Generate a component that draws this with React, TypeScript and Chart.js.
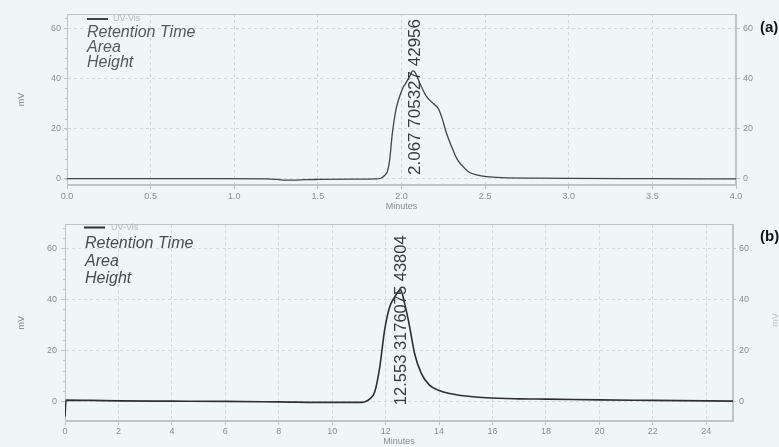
import { useEffect, useRef } from "react";
import { Chart, registerables } from "chart.js";

Chart.register(...registerables);

// ---- Panel (a) ----
const minutesA = [0, 0.3, 0.6, 0.9, 1.2, 1.26, 1.31, 1.36, 1.42, 1.5, 1.7, 1.85, 1.88, 1.9, 1.916, 1.93, 1.945, 1.965, 1.98, 1.995, 2.01, 2.025, 2.05, 2.067, 2.08, 2.11, 2.15, 2.19, 2.22, 2.24, 2.27, 2.3, 2.33, 2.36, 2.4, 2.45, 2.51, 2.6, 2.8, 3.0, 3.5, 4.0];
const mvA = [0.1, 0.1, 0.1, 0.1, 0.05, -0.2, -0.5, -0.5, -0.3, -0.2, -0.1, 0, 0.4, 1.5, 3, 8, 18, 27, 31, 34, 36.5, 38, 41, 42.96, 42.5, 38, 32.7, 30, 28, 24.7, 18, 12.8, 8.2, 5.5, 2.9, 1.6, 0.9, 0.5, 0.3, 0.2, 0.1, 0];
const xTicksA = [0, 0.5, 1, 1.5, 2, 2.5, 3, 3.5, 4];
const peakA = [2.067, 705327, 42956];

// ---- Panel (b) ----
const minutesB = [0, 0.04, 1, 2, 4, 6, 8, 10, 11, 11.2, 11.4, 11.59, 11.78, 11.96, 12.15, 12.34, 12.553, 12.71, 12.9, 13.08, 13.33, 13.64, 14.0, 14.39, 15.0, 15.76, 17, 18, 20, 22, 24, 25];
const mvB = [-6, 0.4, 0.3, 0.1, 0, -0.1, -0.3, -0.5, -0.5, -0.3, 0.8, 3.6, 13.4, 27.8, 37, 40.9, 43.8, 38.4, 29.1, 18.8, 11, 6.3, 4.2, 3, 2, 1.3, 0.9, 0.8, 0.5, 0.3, 0.1, 0];
const xTicksB = [0, 2, 4, 6, 8, 10, 12, 14, 16, 18, 20, 22, 24];
const peakB = [12.553, 3176075, 43804];

const yTicks = [0, 20, 40, 60];
const infoLabels = ["Retention Time", "Area", "Height"];
const seriesName = "UV-Vis";
const xTitle = "Minutes";
const yTitle = "mV";

const FONT = "'Liberation Sans', Arial, Helvetica, sans-serif";
const BG = "#eef6f6";
const GRID = "#d3d9d9";
const FRAME = "#bfc5c5";
const TICKTXT = "#8a8e8e";

type Panel = {
  tag: string;
  minutes: number[];
  mv: number[];
  xTicks: number[];
  xMax: number;
  decimals: number;
  yMin: number;
  yMax: number;
  peak: number[];
  top: number;
  height: number;
  areaTop: number;
  yWidth: number;
  y2Width: number;
  xHeight: number;
  xTickLen: number;
  xTickPad: number;
  xTitlePad: number;
  yTickLen: number;
  yTickPad: number;
  y2TickLen: number;
  y2TickPad: number;
  yTitlePad: number;
  lineColor: string;
  lineWidth: number;
  infoColor: string;
  legend: { x: number; y: number; tx: number };
  info: { x: number; y: number; dy: number };
  peakDx: number;
  peakDy: number;
  peakSize: number;
  tagPos: { x: number; y: number };
  ghostMv?: { x: number; y: number };
};

const panels: Panel[] = [
  {
    tag: "(a)",
    minutes: minutesA,
    mv: mvA,
    xTicks: xTicksA,
    xMax: 4,
    decimals: 1,
    yMin: -2.4,
    yMax: 65.6,
    peak: peakA,
    top: 0,
    height: 215,
    areaTop: 14,
    yWidth: 67,
    y2Width: 43,
    xHeight: 30,
    xTickLen: 4,
    xTickPad: 2,
    xTitlePad: 2.6,
    yTickLen: 3,
    yTickPad: 3,
    y2TickLen: 4,
    y2TickPad: 3,
    yTitlePad: 16.6,
    lineColor: "#424444",
    lineWidth: 1.3,
    infoColor: "#555858",
    legend: { x: 87, y: 19, tx: 113 },
    info: { x: 87, y: 37, dy: 15 },
    peakDx: 2.5,
    peakDy: -4,
    peakSize: 17,
    tagPos: { x: 760, y: 28 },
  },
  {
    tag: "(b)",
    minutes: minutesB,
    mv: mvB,
    xTicks: xTicksB,
    xMax: 25,
    decimals: 0,
    yMin: -7.8,
    yMax: 69.4,
    peak: peakB,
    top: 215,
    height: 232,
    areaTop: 8,
    yWidth: 65,
    y2Width: 46,
    xHeight: 26,
    xTickLen: 4,
    xTickPad: 1,
    xTitlePad: 0,
    yTickLen: 4,
    yTickPad: 4,
    y2TickLen: 3,
    y2TickPad: 3,
    yTitlePad: 16.6,
    lineColor: "#2e3030",
    lineWidth: 1.6,
    infoColor: "#4a4c4c",
    legend: { x: 84, y: 12.5, tx: 111 },
    info: { x: 85, y: 33, dy: 17.5 },
    peakDx: 0.8,
    peakDy: 4,
    peakSize: 16.5,
    tagPos: { x: 760, y: 22 },
    ghostMv: { x: 776, y: 105 },
  },
];

function makeChart(canvas: HTMLCanvasElement, p: Panel) {
  const data = p.minutes.map((m, i) => ({ x: m, y: p.mv[i] }));

  const decor = {
    id: "decor",
    beforeDatasetsDraw(chart: any) {
      const { ctx, chartArea: a } = chart;
      const ys = chart.scales.y;
      ctx.save();
      ctx.strokeStyle = FRAME;
      ctx.lineWidth = 1;
      ctx.strokeRect(Math.round(a.left) + 0.5, Math.round(a.top) + 0.5, Math.round(a.right - a.left) - 1, Math.round(a.bottom - a.top) - 1);
      ctx.beginPath();
      for (let v = 0; v <= p.yMax; v += 4) {
        const py = Math.round(ys.getPixelForValue(v)) + 0.5;
        ctx.moveTo(a.left - 2, py);
        ctx.lineTo(a.left, py);
      }
      ctx.stroke();
      ctx.restore();
    },
    afterDraw(chart: any) {
      const { ctx } = chart;
      const xs = chart.scales.x;
      const ys = chart.scales.y;
      ctx.save();
      // legend entry
      ctx.strokeStyle = p.lineColor;
      ctx.lineWidth = 2;
      ctx.beginPath();
      ctx.moveTo(p.legend.x, p.legend.y);
      ctx.lineTo(p.legend.x + 21, p.legend.y);
      ctx.stroke();
      ctx.fillStyle = "#b4baba";
      ctx.font = `9px ${FONT}`;
      ctx.textAlign = "left";
      ctx.textBaseline = "middle";
      ctx.fillText(seriesName, p.legend.tx, p.legend.y);
      // info block
      ctx.fillStyle = p.infoColor;
      ctx.font = `italic 16px ${FONT}`;
      ctx.textBaseline = "alphabetic";
      infoLabels.forEach((s, i) => ctx.fillText(s, p.info.x, p.info.y + i * p.info.dy));
      // peak annotation
      ctx.save();
      ctx.translate(xs.getPixelForValue(p.peak[0]) + p.peakDx, ys.getPixelForValue(0) + p.peakDy);
      ctx.rotate(-Math.PI / 2);
      ctx.font = `${p.peakSize}px ${FONT}`;
      ctx.fillStyle = "#3a3c3c";
      ctx.textBaseline = "middle";
      ctx.textAlign = "left";
      ctx.fillText(p.peak.join(" "), 0, 0);
      ctx.restore();
      // panel tag
      ctx.font = `bold 15px ${FONT}`;
      ctx.fillStyle = "#151515";
      ctx.textBaseline = "middle";
      ctx.textAlign = "left";
      ctx.fillText(p.tag, p.tagPos.x, p.tagPos.y);
      if (p.ghostMv) {
        ctx.save();
        ctx.translate(p.ghostMv.x, p.ghostMv.y);
        ctx.rotate(-Math.PI / 2);
        ctx.font = `9px ${FONT}`;
        ctx.fillStyle = "#c4caca";
        ctx.textAlign = "center";
        ctx.fillText(yTitle, 0, 0);
        ctx.restore();
      }
      ctx.restore();
    },
  };

  const tickFont = { size: 9, family: FONT };
  const yScaleBase = {
    type: "linear" as const,
    min: p.yMin,
    max: p.yMax,
    afterBuildTicks: (s: any) => {
      s.ticks = yTicks.map((v) => ({ value: v }));
    },
  };

  return new Chart(canvas, {
    type: "line",
    data: {
      datasets: [
        {
          label: seriesName,
          data,
          borderColor: p.lineColor,
          borderWidth: p.lineWidth,
          pointRadius: 0,
          fill: false,
          cubicInterpolationMode: "monotone",
        },
      ],
    },
    options: {
      animation: false,
      responsive: false,
      maintainAspectRatio: false,
      layout: { padding: { top: p.areaTop, left: 0, right: 0, bottom: 0 } },
      plugins: { legend: { display: false }, tooltip: { enabled: false } },
      scales: {
        x: {
          type: "linear",
          min: 0,
          max: p.xMax,
          afterBuildTicks: (s: any) => {
            s.ticks = p.xTicks.map((v) => ({ value: v }));
          },
          afterFit: (s: any) => {
            s.height = p.xHeight;
          },
          ticks: {
            color: TICKTXT,
            font: tickFont,
            padding: p.xTickPad,
            maxRotation: 0,
            autoSkip: false,
            callback: (v: any) => Number(v).toFixed(p.decimals),
          },
          grid: { color: GRID, tickColor: FRAME, tickLength: p.xTickLen },
          border: { display: true, color: FRAME, dash: [3, 3] },
          title: { display: true, text: xTitle, color: TICKTXT, font: tickFont, padding: { top: 0, bottom: p.xTitlePad } },
        },
        y: {
          ...yScaleBase,
          position: "left",
          afterFit: (s: any) => {
            s.width = p.yWidth;
          },
          ticks: { color: TICKTXT, font: tickFont, padding: p.yTickPad },
          grid: { color: GRID, tickColor: FRAME, tickLength: p.yTickLen },
          border: { display: true, color: FRAME, dash: [3, 3] },
          title: { display: true, text: yTitle, color: TICKTXT, font: tickFont, padding: { top: p.yTitlePad, bottom: 0 } },
        },
        y2: {
          ...yScaleBase,
          position: "right",
          afterFit: (s: any) => {
            s.width = p.y2Width;
          },
          ticks: { color: TICKTXT, font: tickFont, padding: p.y2TickPad },
          grid: { drawOnChartArea: false, tickColor: FRAME, tickLength: p.y2TickLen },
          border: { display: true, color: FRAME },
        },
      },
    } as any,
    plugins: [decor],
  });
}

function PanelChart({ p }: { p: Panel }) {
  const ref = useRef<HTMLCanvasElement | null>(null);
  useEffect(() => {
    if (!ref.current) return;
    const chart = makeChart(ref.current, p);
    return () => chart.destroy();
  }, [p]);
  return (
    <canvas
      ref={ref}
      width={779}
      height={p.height}
      style={{ position: "absolute", left: 0, top: p.top, width: 779, height: p.height, display: "block" }}
    />
  );
}

export default function App() {
  return (
    <div style={{ position: "absolute", left: 0, top: 0, width: 779, height: 447, background: BG, overflow: "hidden" }}>
      {panels.map((p) => (
        <PanelChart key={p.tag} p={p} />
      ))}
    </div>
  );
}
